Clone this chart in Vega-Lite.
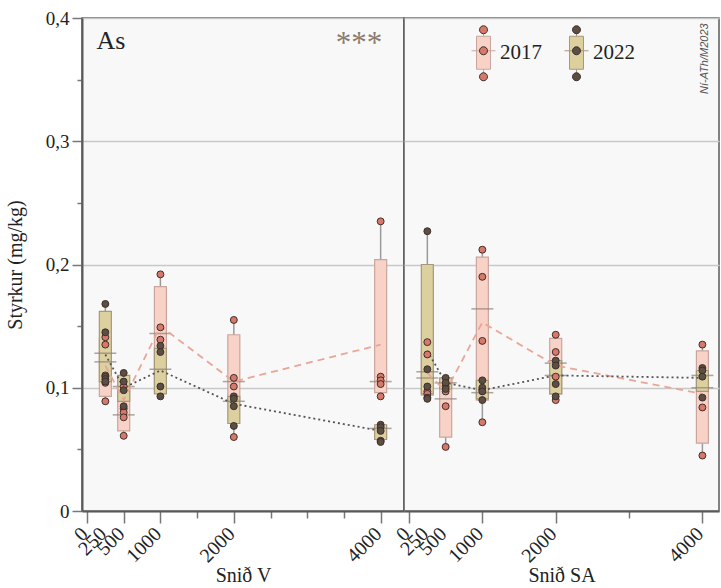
{
  "$schema": "https://vega.github.io/schema/vega-lite/v6.json",
  "background": "white",
  "padding": {"left": 4, "top": 8, "right": 0, "bottom": 0},
  "bounds": "flush",
  "spacing": 0,
  "config": {
    "font": "Liberation Serif",
    "view": {"stroke": "#5a5a5a", "strokeWidth": 1.5, "fill": "#f8f8f8"},
    "axis": {
      "labelFont": "Liberation Serif",
      "titleFont": "Liberation Serif",
      "titleFontWeight": "normal",
      "labelColor": "#222222",
      "titleColor": "#222222",
      "labelFontSize": 19,
      "titleFontSize": 20,
      "labelFlush": false,
      "domainColor": "#5a5a5a",
      "domainWidth": 2,
      "tickColor": "#777777",
      "tickWidth": 1.5
    }
  },
  "datasets": {
    "boxes": [
      {"snid": "V", "dist": 250, "year": "2017", "min": 0.089, "q1": 0.093, "median": 0.128, "q3": 0.140, "max": 0.145, "mean": 0.118},
      {"snid": "V", "dist": 500, "year": "2017", "min": 0.061, "q1": 0.065, "median": 0.078, "q3": 0.098, "max": 0.101, "mean": 0.090},
      {"snid": "V", "dist": 1000, "year": "2017", "min": 0.097, "q1": 0.098, "median": 0.144, "q3": 0.182, "max": 0.192, "mean": 0.150},
      {"snid": "V", "dist": 2000, "year": "2017", "min": 0.060, "q1": 0.090, "median": 0.105, "q3": 0.143, "max": 0.155, "mean": 0.105},
      {"snid": "V", "dist": 4000, "year": "2017", "min": 0.093, "q1": 0.096, "median": 0.105, "q3": 0.204, "max": 0.235, "mean": 0.135},
      {"snid": "SA", "dist": 250, "year": "2017", "min": 0.093, "q1": 0.094, "median": 0.108, "q3": 0.130, "max": 0.137, "mean": 0.112},
      {"snid": "SA", "dist": 500, "year": "2017", "min": 0.052, "q1": 0.060, "median": 0.091, "q3": 0.105, "max": 0.108, "mean": 0.097},
      {"snid": "SA", "dist": 1000, "year": "2017", "min": 0.072, "q1": 0.090, "median": 0.164, "q3": 0.206, "max": 0.212, "mean": 0.153},
      {"snid": "SA", "dist": 2000, "year": "2017", "min": 0.090, "q1": 0.095, "median": 0.110, "q3": 0.140, "max": 0.143, "mean": 0.118},
      {"snid": "SA", "dist": 4000, "year": "2017", "min": 0.045, "q1": 0.055, "median": 0.100, "q3": 0.130, "max": 0.135, "mean": 0.095},
      {"snid": "V", "dist": 250, "year": "2022", "min": 0.105, "q1": 0.105, "median": 0.121, "q3": 0.162, "max": 0.168, "mean": 0.127},
      {"snid": "V", "dist": 500, "year": "2022", "min": 0.085, "q1": 0.089, "median": 0.101, "q3": 0.110, "max": 0.112, "mean": 0.100},
      {"snid": "V", "dist": 1000, "year": "2022", "min": 0.093, "q1": 0.095, "median": 0.115, "q3": 0.132, "max": 0.134, "mean": 0.114},
      {"snid": "V", "dist": 2000, "year": "2022", "min": 0.069, "q1": 0.071, "median": 0.089, "q3": 0.093, "max": 0.093, "mean": 0.087},
      {"snid": "V", "dist": 4000, "year": "2022", "min": 0.056, "q1": 0.058, "median": 0.067, "q3": 0.070, "max": 0.070, "mean": 0.065},
      {"snid": "SA", "dist": 250, "year": "2022", "min": 0.091, "q1": 0.095, "median": 0.113, "q3": 0.200, "max": 0.227, "mean": 0.130},
      {"snid": "SA", "dist": 500, "year": "2022", "min": 0.098, "q1": 0.099, "median": 0.104, "q3": 0.108, "max": 0.109, "mean": 0.104},
      {"snid": "SA", "dist": 1000, "year": "2022", "min": 0.089, "q1": 0.091, "median": 0.096, "q3": 0.106, "max": 0.106, "mean": 0.098},
      {"snid": "SA", "dist": 2000, "year": "2022", "min": 0.093, "q1": 0.095, "median": 0.120, "q3": 0.122, "max": 0.122, "mean": 0.110},
      {"snid": "SA", "dist": 4000, "year": "2022", "min": 0.092, "q1": 0.097, "median": 0.110, "q3": 0.114, "max": 0.116, "mean": 0.108}
    ],
    "samples": [
      {"snid": "V", "dist": 250, "year": "2017", "value": 0.141},
      {"snid": "V", "dist": 250, "year": "2017", "value": 0.135},
      {"snid": "V", "dist": 250, "year": "2017", "value": 0.110},
      {"snid": "V", "dist": 250, "year": "2017", "value": 0.104},
      {"snid": "V", "dist": 250, "year": "2017", "value": 0.089},
      {"snid": "V", "dist": 500, "year": "2017", "value": 0.101},
      {"snid": "V", "dist": 500, "year": "2017", "value": 0.083},
      {"snid": "V", "dist": 500, "year": "2017", "value": 0.080},
      {"snid": "V", "dist": 500, "year": "2017", "value": 0.076},
      {"snid": "V", "dist": 500, "year": "2017", "value": 0.061},
      {"snid": "V", "dist": 1000, "year": "2017", "value": 0.192},
      {"snid": "V", "dist": 1000, "year": "2017", "value": 0.149},
      {"snid": "V", "dist": 1000, "year": "2017", "value": 0.139},
      {"snid": "V", "dist": 2000, "year": "2017", "value": 0.155},
      {"snid": "V", "dist": 2000, "year": "2017", "value": 0.108},
      {"snid": "V", "dist": 2000, "year": "2017", "value": 0.101},
      {"snid": "V", "dist": 2000, "year": "2017", "value": 0.060},
      {"snid": "V", "dist": 4000, "year": "2017", "value": 0.235},
      {"snid": "V", "dist": 4000, "year": "2017", "value": 0.109},
      {"snid": "V", "dist": 4000, "year": "2017", "value": 0.106},
      {"snid": "V", "dist": 4000, "year": "2017", "value": 0.103},
      {"snid": "V", "dist": 4000, "year": "2017", "value": 0.093},
      {"snid": "SA", "dist": 250, "year": "2017", "value": 0.137},
      {"snid": "SA", "dist": 250, "year": "2017", "value": 0.127},
      {"snid": "SA", "dist": 250, "year": "2017", "value": 0.097},
      {"snid": "SA", "dist": 250, "year": "2017", "value": 0.095},
      {"snid": "SA", "dist": 500, "year": "2017", "value": 0.101},
      {"snid": "SA", "dist": 500, "year": "2017", "value": 0.097},
      {"snid": "SA", "dist": 500, "year": "2017", "value": 0.085},
      {"snid": "SA", "dist": 500, "year": "2017", "value": 0.052},
      {"snid": "SA", "dist": 1000, "year": "2017", "value": 0.212},
      {"snid": "SA", "dist": 1000, "year": "2017", "value": 0.190},
      {"snid": "SA", "dist": 1000, "year": "2017", "value": 0.138},
      {"snid": "SA", "dist": 1000, "year": "2017", "value": 0.072},
      {"snid": "SA", "dist": 2000, "year": "2017", "value": 0.143},
      {"snid": "SA", "dist": 2000, "year": "2017", "value": 0.129},
      {"snid": "SA", "dist": 2000, "year": "2017", "value": 0.109},
      {"snid": "SA", "dist": 2000, "year": "2017", "value": 0.090},
      {"snid": "SA", "dist": 4000, "year": "2017", "value": 0.135},
      {"snid": "SA", "dist": 4000, "year": "2017", "value": 0.084},
      {"snid": "SA", "dist": 4000, "year": "2017", "value": 0.045},
      {"snid": "V", "dist": 250, "year": "2022", "value": 0.168},
      {"snid": "V", "dist": 250, "year": "2022", "value": 0.145},
      {"snid": "V", "dist": 250, "year": "2022", "value": 0.109},
      {"snid": "V", "dist": 250, "year": "2022", "value": 0.107},
      {"snid": "V", "dist": 250, "year": "2022", "value": 0.105},
      {"snid": "V", "dist": 500, "year": "2022", "value": 0.112},
      {"snid": "V", "dist": 500, "year": "2022", "value": 0.105},
      {"snid": "V", "dist": 500, "year": "2022", "value": 0.098},
      {"snid": "V", "dist": 500, "year": "2022", "value": 0.085},
      {"snid": "V", "dist": 1000, "year": "2022", "value": 0.134},
      {"snid": "V", "dist": 1000, "year": "2022", "value": 0.129},
      {"snid": "V", "dist": 1000, "year": "2022", "value": 0.101},
      {"snid": "V", "dist": 1000, "year": "2022", "value": 0.093},
      {"snid": "V", "dist": 2000, "year": "2022", "value": 0.093},
      {"snid": "V", "dist": 2000, "year": "2022", "value": 0.091},
      {"snid": "V", "dist": 2000, "year": "2022", "value": 0.085},
      {"snid": "V", "dist": 2000, "year": "2022", "value": 0.069},
      {"snid": "V", "dist": 4000, "year": "2022", "value": 0.070},
      {"snid": "V", "dist": 4000, "year": "2022", "value": 0.068},
      {"snid": "V", "dist": 4000, "year": "2022", "value": 0.065},
      {"snid": "V", "dist": 4000, "year": "2022", "value": 0.057},
      {"snid": "V", "dist": 4000, "year": "2022", "value": 0.056},
      {"snid": "SA", "dist": 250, "year": "2022", "value": 0.227},
      {"snid": "SA", "dist": 250, "year": "2022", "value": 0.115},
      {"snid": "SA", "dist": 250, "year": "2022", "value": 0.101},
      {"snid": "SA", "dist": 250, "year": "2022", "value": 0.092},
      {"snid": "SA", "dist": 250, "year": "2022", "value": 0.091},
      {"snid": "SA", "dist": 500, "year": "2022", "value": 0.108},
      {"snid": "SA", "dist": 500, "year": "2022", "value": 0.104},
      {"snid": "SA", "dist": 500, "year": "2022", "value": 0.099},
      {"snid": "SA", "dist": 1000, "year": "2022", "value": 0.106},
      {"snid": "SA", "dist": 1000, "year": "2022", "value": 0.100},
      {"snid": "SA", "dist": 1000, "year": "2022", "value": 0.097},
      {"snid": "SA", "dist": 1000, "year": "2022", "value": 0.090},
      {"snid": "SA", "dist": 2000, "year": "2022", "value": 0.122},
      {"snid": "SA", "dist": 2000, "year": "2022", "value": 0.118},
      {"snid": "SA", "dist": 2000, "year": "2022", "value": 0.103},
      {"snid": "SA", "dist": 2000, "year": "2022", "value": 0.093},
      {"snid": "SA", "dist": 4000, "year": "2022", "value": 0.116},
      {"snid": "SA", "dist": 4000, "year": "2022", "value": 0.114},
      {"snid": "SA", "dist": 4000, "year": "2022", "value": 0.109},
      {"snid": "SA", "dist": 4000, "year": "2022", "value": 0.092}
    ],
    "distLabels": [
      {"dist": 0}, {"dist": 250}, {"dist": 500}, {"dist": 1000}, {"dist": 2000}, {"dist": 4000}
    ]
  },
  "resolve": {"scale": {"x": "independent"}},
  "hconcat": [
    {
      "width": 322,
      "height": 493,
      "layer": [
        {
          "data": {"name": "boxes"},
          "transform": [{"filter": "datum.snid == 'V'"}],
          "mark": {"type": "rule", "color": "#9a9a9a", "strokeWidth": 1.5},
          "encoding": {
            "x": {
              "field": "dist", "type": "quantitative",
              "scale": {"domain": [0, 4250], "nice": false, "zero": false},
              "axis": {
                "title": "Snið V",
                "values": [0, 250, 500, 750, 1000, 1250, 1500, 1750, 2000, 2250, 2500, 2750, 3000, 3250, 3500, 3750, 4000],
                "labels": false,
                "tickSize": {"condition": {"test": "indexof([0, 250, 500, 1000, 2000, 4000], datum.value) >= 0", "value": 12}, "value": 7},
                "titlePadding": 42,
                "grid": false
              }
            },
            "y": {
              "field": "min", "type": "quantitative",
              "scale": {"domain": [0, 0.4], "nice": false, "zero": true},
              "axis": {
                "title": "Styrkur (mg/kg)",
                "values": [0, 0.05, 0.1, 0.15, 0.2, 0.25, 0.3, 0.35, 0.4],
                "labelExpr": "abs(round(datum.value * 10) - datum.value * 10) < 0.001 ? (datum.value == 0 ? '0' : replace(format(datum.value, '.1f'), '.', ',')) : ''",
                "tickSize": {"condition": {"test": "abs(round(datum.value * 10) - datum.value * 10) < 0.001", "value": 10}, "value": 5},
                "grid": true,
                "gridColor": "#c8c8c8",
                "gridWidth": 1.5,
                "gridOpacity": {"condition": {"test": "abs(round(datum.value * 10) - datum.value * 10) < 0.001", "value": 1}, "value": 0},
                "labelPadding": 3,
                "titlePadding": 20
              }
            },
            "y2": {"field": "max"}
          }
        },
        {
          "data": {"name": "boxes"},
          "transform": [{"filter": "datum.snid == 'V'"}],
          "mark": {"type": "bar", "size": 12, "strokeWidth": 1.2},
          "encoding": {
            "x": {"field": "dist", "type": "quantitative"},
            "y": {"field": "q1", "type": "quantitative"},
            "y2": {"field": "q3"},
            "fill": {
              "field": "year", "type": "nominal",
              "scale": {"domain": ["2017", "2022"], "range": ["#f9d2c7", "#ddd09f"]},
              "legend": {
                "orient": "none", "legendX": 391, "legendY": 24, "direction": "horizontal", "title": null,
                "symbolType": "M-0.7,-1.65H0.7V1.65H-0.7Z M0,-2.3V-1.65 M0,1.65V2.4 M-1.2,-0.2H1.2",
                "symbolSize": 400, "symbolStrokeColor": "#a8968c", "symbolStrokeWidth": 1, "symbolOpacity": 1,
                "labelFont": "Liberation Serif", "labelFontSize": 21, "labelColor": "#222222",
                "labelOffset": 6, "columnPadding": 20, "padding": 0, "zindex": 0
              }
            },
            "stroke": {
              "field": "year", "type": "nominal",
              "scale": {"domain": ["2017", "2022"], "range": ["#c9a69d", "#a6987e"]},
              "legend": null
            }
          }
        },
        {
          "data": {"name": "boxes"},
          "transform": [{"filter": "datum.snid == 'V'"}],
          "mark": {"type": "tick", "orient": "horizontal", "size": 22, "thickness": 1.5, "color": "#8d8078"},
          "encoding": {
            "x": {"field": "dist", "type": "quantitative"},
            "y": {"field": "median", "type": "quantitative"}
          }
        },
        {
          "data": {"name": "boxes"},
          "transform": [{"filter": "datum.snid == 'V' && datum.year == '2017'"}],
          "mark": {"type": "line", "color": "#eaa595", "strokeWidth": 1.8, "strokeDash": [7, 5]},
          "encoding": {
            "x": {"field": "dist", "type": "quantitative"},
            "y": {"field": "mean", "type": "quantitative"}
          }
        },
        {
          "data": {"name": "boxes"},
          "transform": [{"filter": "datum.snid == 'V' && datum.year == '2022'"}],
          "mark": {"type": "line", "color": "#555555", "strokeWidth": 1.8, "strokeDash": [2, 3]},
          "encoding": {
            "x": {"field": "dist", "type": "quantitative"},
            "y": {"field": "mean", "type": "quantitative"}
          }
        },
        {
          "data": {"name": "samples"},
          "transform": [{"filter": "datum.snid == 'V'"}],
          "mark": {"type": "point", "shape": "circle", "filled": true, "size": 48, "stroke": "#3e2e2a", "strokeWidth": 1, "opacity": 1},
          "encoding": {
            "x": {"field": "dist", "type": "quantitative"},
            "y": {"field": "value", "type": "quantitative"},
            "color": {
              "field": "year", "type": "nominal",
              "scale": {"range": ["#d8786b", "#5b4f44"]},
              "legend": {
                "orient": "none", "legendX": 391, "legendY": 24, "direction": "horizontal", "title": null,
                "symbolType": "M-1.2,-0.2M1.2,-0.2M-0.4,-2.3a0.4,0.4 0 1,0 0.8,0a0.4,0.4 0 1,0 -0.8,0Z M-0.4,-0.2a0.4,0.4 0 1,0 0.8,0a0.4,0.4 0 1,0 -0.8,0Z M-0.4,2.4a0.4,0.4 0 1,0 0.8,0a0.4,0.4 0 1,0 -0.8,0Z",
                "symbolSize": 400, "symbolStrokeColor": "#3e2e2a", "symbolStrokeWidth": 1, "symbolOpacity": 1,
                "labelExpr": "''", "labelFontSize": 21,
                "labelOffset": 6, "columnPadding": 62, "padding": 0, "zindex": 1
              }
            }
          }
        },
        {
          "data": {"name": "distLabels"},
          "mark": {"type": "text", "angle": 315, "align": "right", "baseline": "middle", "dx": -15.6, "dy": 12.7, "fontSize": 20, "color": "#222222", "font": "Liberation Serif"},
          "encoding": {
            "x": {"field": "dist", "type": "quantitative"},
            "y": {"datum": 0, "type": "quantitative"},
            "text": {"field": "dist", "type": "quantitative", "format": "d"}
          }
        },
        {
          "data": {"values": [{}]},
          "mark": {"type": "text", "text": "As", "align": "left", "baseline": "middle", "fontSize": 26, "color": "#222222", "font": "Liberation Serif"},
          "encoding": {
            "x": {"datum": 130, "type": "quantitative"},
            "y": {"datum": 0.381, "type": "quantitative"}
          }
        },
        {
          "data": {"values": [{}]},
          "mark": {"type": "text", "text": "***", "align": "center", "baseline": "alphabetic", "fontSize": 31, "color": "#8b7b6e", "font": "Liberation Serif"},
          "encoding": {
            "x": {"datum": 3706, "type": "quantitative"},
            "y": {"datum": 0.3715, "type": "quantitative"}
          }
        }
      ]
    },
    {
      "width": 315,
      "height": 493,
      "layer": [
        {
          "data": {"name": "boxes"},
          "transform": [{"filter": "datum.snid == 'SA'"}],
          "mark": {"type": "rule", "color": "#9a9a9a", "strokeWidth": 1.5},
          "encoding": {
            "x": {
              "field": "dist", "type": "quantitative",
              "scale": {"domain": [0, 4158], "nice": false, "zero": false},
              "axis": {
                "title": "Snið SA",
                "values": [0, 250, 500, 750, 1000, 1250, 1500, 1750, 2000, 2250, 2500, 2750, 3000, 3250, 3500, 3750, 4000],
                "labels": false,
                "tickSize": {"condition": {"test": "indexof([0, 250, 500, 1000, 2000, 4000], datum.value) >= 0", "value": 12}, "value": 7},
                "titlePadding": 42,
                "grid": false
              }
            },
            "y": {
              "field": "min", "type": "quantitative",
              "scale": {"domain": [0, 0.4], "nice": false, "zero": true},
              "axis": {
                "title": null,
                "values": [0, 0.1, 0.2, 0.3, 0.4],
                "labels": false,
                "ticks": false,
                "domain": false,
                "grid": true,
                "gridColor": "#c8c8c8",
                "gridWidth": 1.5
              }
            },
            "y2": {"field": "max"}
          }
        },
        {
          "data": {"name": "boxes"},
          "transform": [{"filter": "datum.snid == 'SA'"}],
          "mark": {"type": "bar", "size": 12, "strokeWidth": 1.2},
          "encoding": {
            "x": {"field": "dist", "type": "quantitative"},
            "y": {"field": "q1", "type": "quantitative"},
            "y2": {"field": "q3"},
            "fill": {"field": "year", "type": "nominal"},
            "stroke": {"field": "year", "type": "nominal"}
          }
        },
        {
          "data": {"name": "boxes"},
          "transform": [{"filter": "datum.snid == 'SA'"}],
          "mark": {"type": "tick", "orient": "horizontal", "size": 22, "thickness": 1.5, "color": "#8d8078"},
          "encoding": {
            "x": {"field": "dist", "type": "quantitative"},
            "y": {"field": "median", "type": "quantitative"}
          }
        },
        {
          "data": {"name": "boxes"},
          "transform": [{"filter": "datum.snid == 'SA' && datum.year == '2017'"}],
          "mark": {"type": "line", "color": "#eaa595", "strokeWidth": 1.8, "strokeDash": [7, 5]},
          "encoding": {
            "x": {"field": "dist", "type": "quantitative"},
            "y": {"field": "mean", "type": "quantitative"}
          }
        },
        {
          "data": {"name": "boxes"},
          "transform": [{"filter": "datum.snid == 'SA' && datum.year == '2022'"}],
          "mark": {"type": "line", "color": "#555555", "strokeWidth": 1.8, "strokeDash": [2, 3]},
          "encoding": {
            "x": {"field": "dist", "type": "quantitative"},
            "y": {"field": "mean", "type": "quantitative"}
          }
        },
        {
          "data": {"name": "samples"},
          "transform": [{"filter": "datum.snid == 'SA'"}],
          "mark": {"type": "point", "shape": "circle", "filled": true, "size": 48, "stroke": "#3e2e2a", "strokeWidth": 1, "opacity": 1},
          "encoding": {
            "x": {"field": "dist", "type": "quantitative"},
            "y": {"field": "value", "type": "quantitative"},
            "color": {"field": "year", "type": "nominal"}
          }
        },
        {
          "data": {"name": "distLabels"},
          "mark": {"type": "text", "angle": 315, "align": "right", "baseline": "middle", "dx": -15.6, "dy": 12.7, "fontSize": 20, "color": "#222222", "font": "Liberation Serif"},
          "encoding": {
            "x": {"field": "dist", "type": "quantitative"},
            "y": {"datum": 0, "type": "quantitative"},
            "text": {"field": "dist", "type": "quantitative", "format": "d"}
          }
        },
        {
          "data": {"values": [{}]},
          "mark": {"type": "text", "text": "Ní-ATh/M2023", "angle": 270, "align": "center", "baseline": "middle", "fontSize": 11, "fontStyle": "italic", "color": "#555555", "font": "Liberation Sans"},
          "encoding": {
            "x": {"datum": 4040, "type": "quantitative"},
            "y": {"datum": 0.367, "type": "quantitative"}
          }
        }
      ]
    }
  ]
}
